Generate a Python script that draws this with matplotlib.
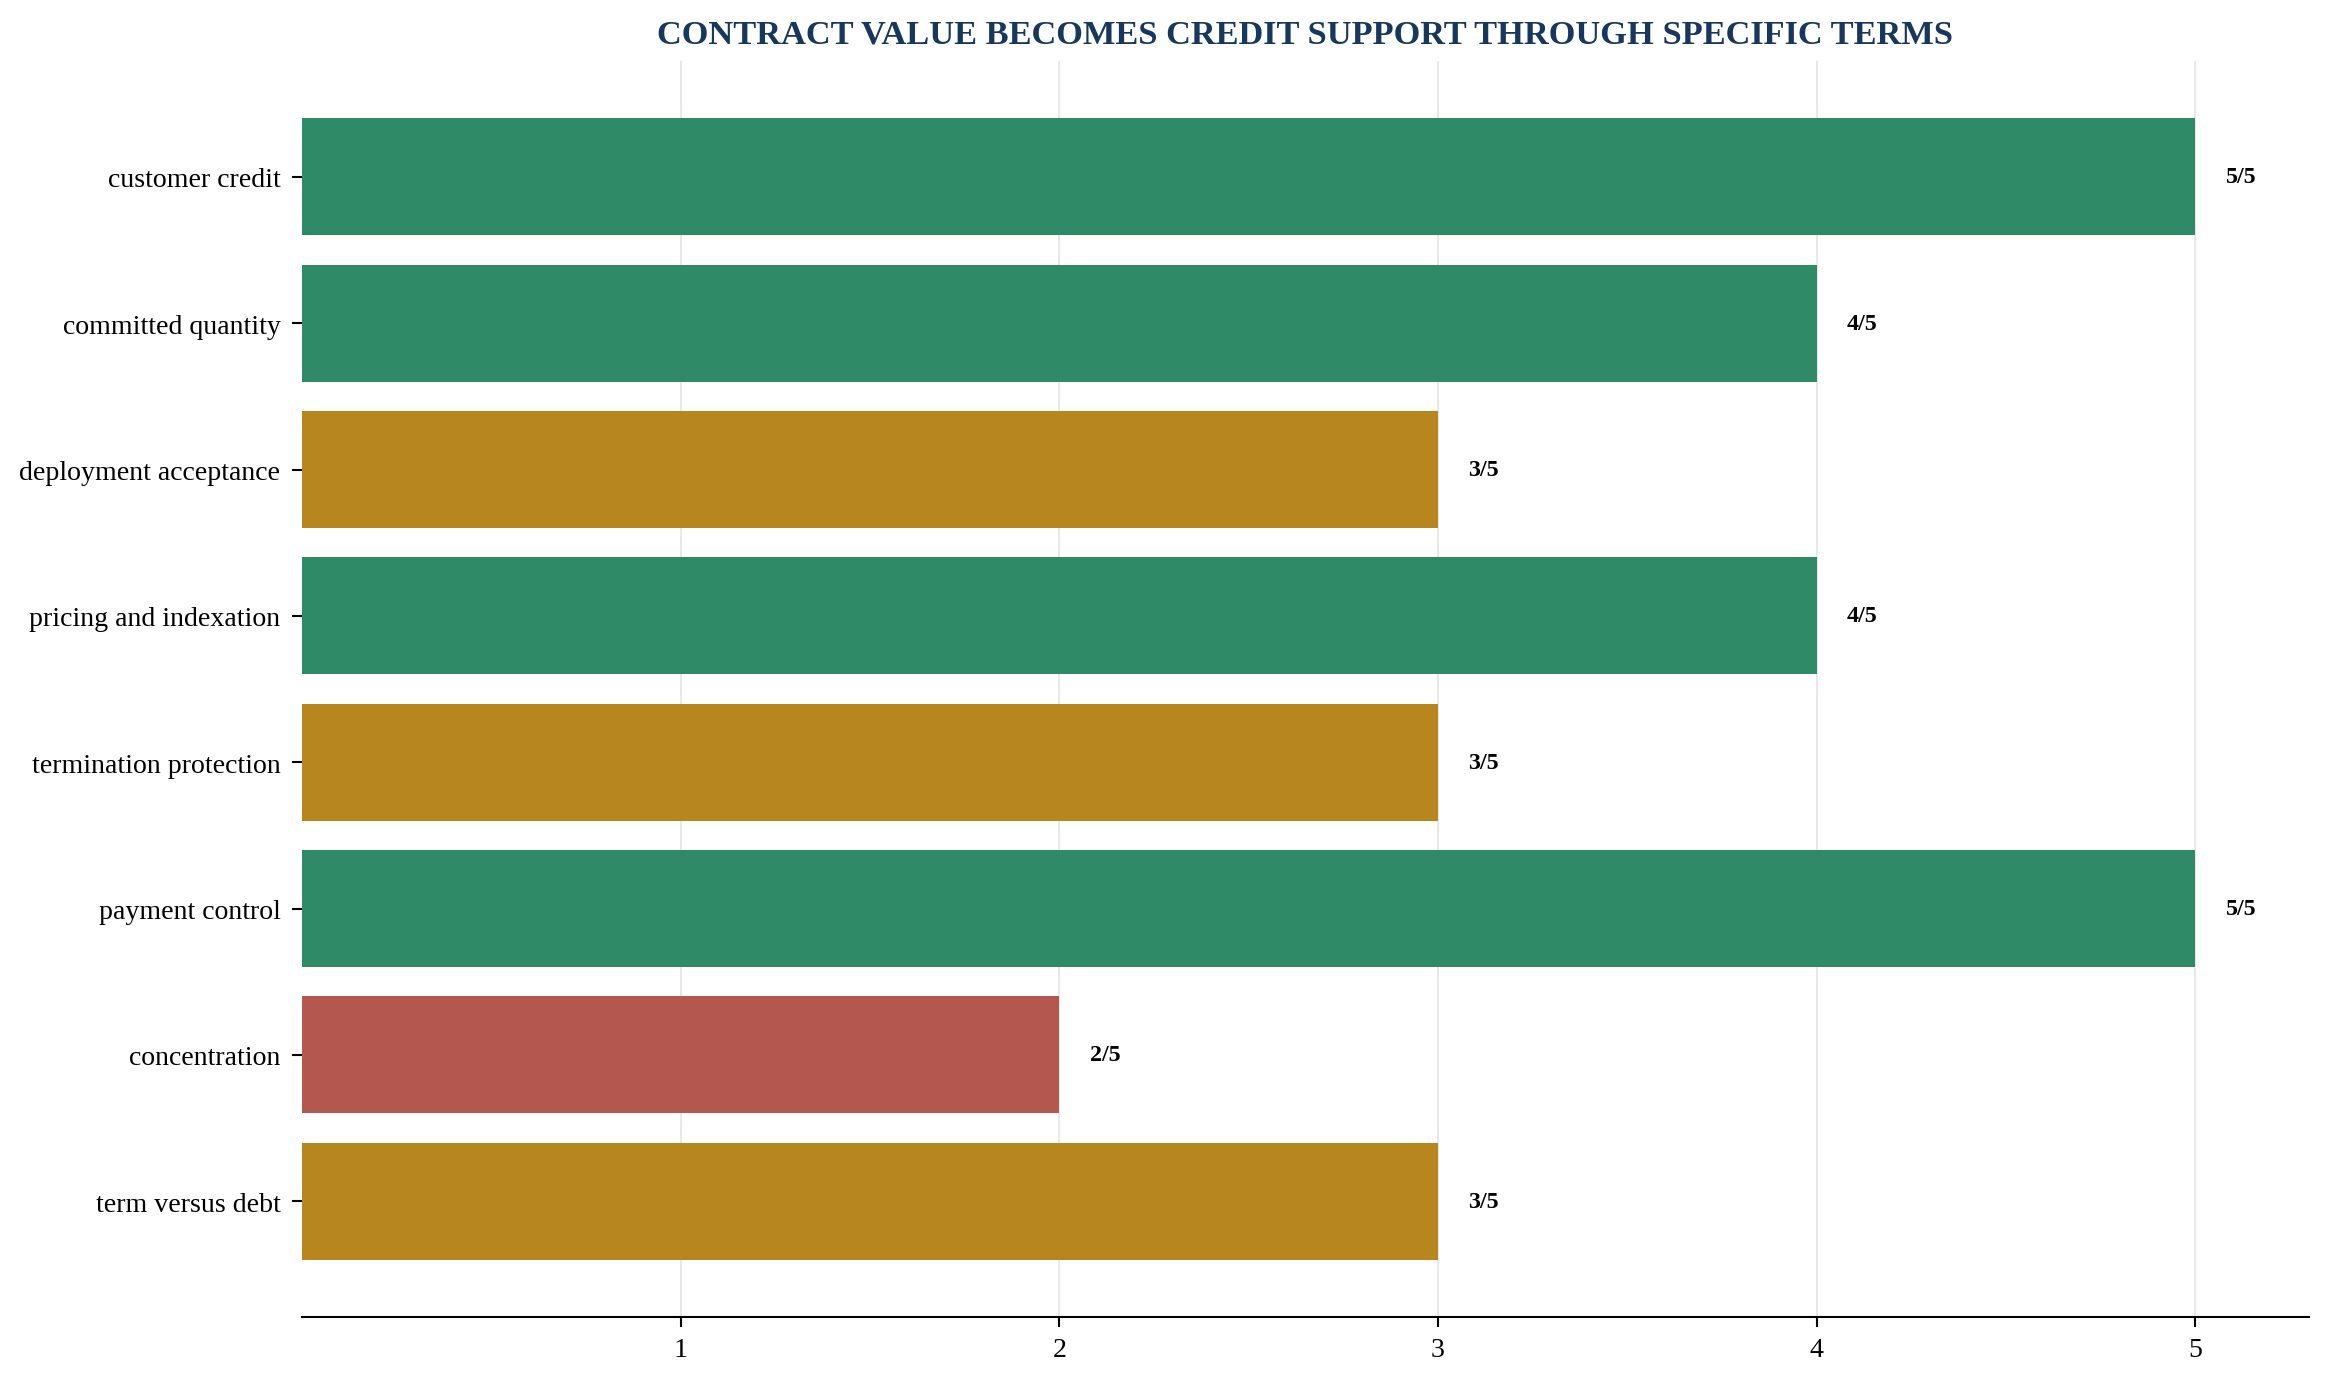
import matplotlib
matplotlib.use("Agg")
import matplotlib.pyplot as plt

categories = ["customer credit", "committed quantity", "deployment acceptance",
              "pricing and indexation", "termination protection", "payment control",
              "concentration", "term versus debt"]
scores = [5, 4, 3, 4, 3, 5, 2, 3]
max_score = 5
color_map = {5: "#2f8a68", 4: "#2f8a68", 3: "#b8861f", 2: "#b3574f"}

plt.rcParams['font.family'] = ['Liberation Serif', 'DejaVu Serif']

fig, ax = plt.subplots(figsize=(15.54, 9.233), dpi=150)
fig.subplots_adjust(left=0.1295, right=0.9905, top=0.955, bottom=0.0485)

ypos = list(range(len(categories)))
colors = [color_map[s] for s in scores]
ax.barh(ypos, scores, height=0.8, color=colors, zorder=2)
ax.set_yticks(ypos)
ax.set_yticklabels(categories, fontsize=13.4)
ax.invert_yaxis()
ax.set_xlim(0, 5.3)
ax.set_xticks([1, 2, 3, 4, 5])
ax.tick_params(axis='x', labelsize=13.4, length=5, width=1, pad=4.5)
ax.tick_params(axis='y', length=4.8, width=1, pad=5.5)
ax.spines['bottom'].set_linewidth(1)
ax.grid(axis='x', color='#e8e8e8', linewidth=1, zorder=0)
ax.set_axisbelow(True)
for side in ['top', 'right', 'left']:
    ax.spines[side].set_visible(False)

for y, s in zip(ypos, scores):
    ax.text(s + 0.08, y, f"{s}/{max_score}", va='center', ha='left',
            fontsize=11.5, fontweight='bold')

ax.set_title("CONTRACT VALUE BECOMES CREDIT SUPPORT THROUGH SPECIFIC TERMS",
             fontsize=16.5, fontweight='bold', color='#17375e', pad=9)

fig.savefig("out.png", dpi=150)
